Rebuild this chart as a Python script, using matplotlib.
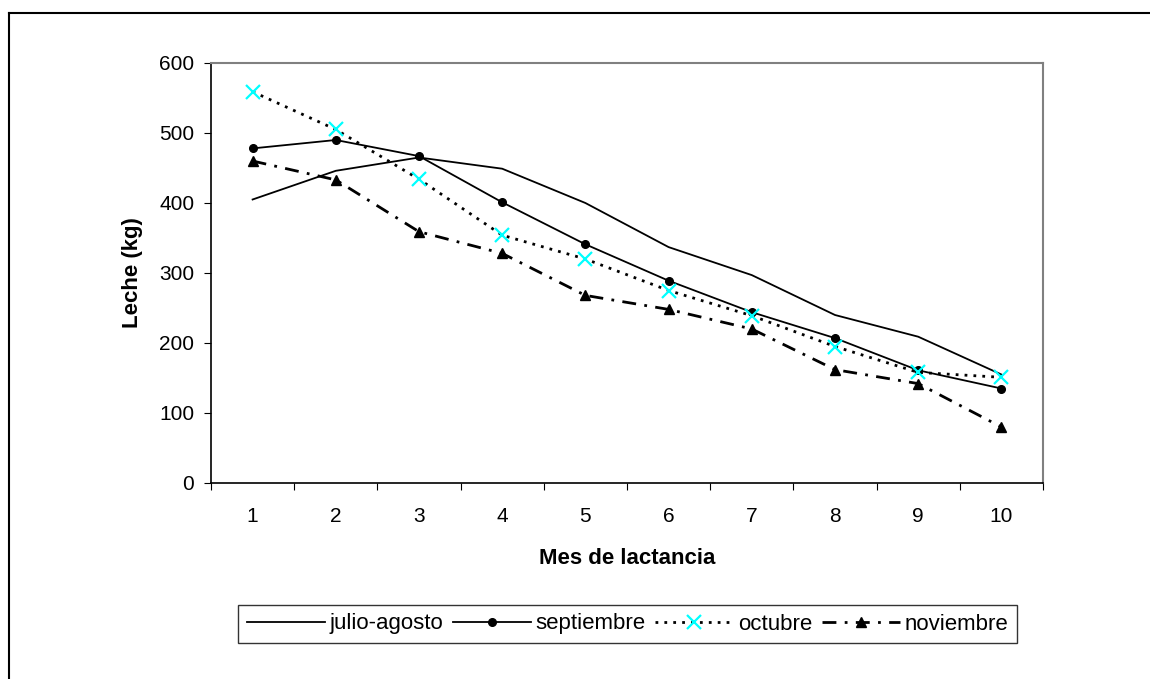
import numpy as np
import matplotlib
matplotlib.use("Agg")
import matplotlib.pyplot as plt
from matplotlib.lines import Line2D

plt.rcParams["font.family"] = ["Liberation Sans", "DejaVu Sans"]

# datos
meses = [1, 2, 3, 4, 5, 6, 7, 8, 9, 10]
julio_agosto = [405, 446, 465, 449, 400, 337, 297, 240, 209, 155]
septiembre = [478, 490, 467, 401, 341, 289, 244, 207, 161, 135]
octubre = [559, 505, 434, 354, 320, 275, 239, 195, 158, 151]
noviembre = [460, 433, 359, 328, 268, 248, 220, 162, 142, 80]

W, H = 1150, 679
fig = plt.figure(figsize=(W / 100, H / 100), dpi=100)
ax = fig.add_axes([211 / W, 1 - 483 / H, (1043 - 211) / W, (483 - 63) / H])

x = np.arange(len(meses))
ax.plot(x, julio_agosto, color="black", lw=1.3, label="julio-agosto")
ax.plot(x, septiembre, color="black", lw=1.3, marker="o", ms=5.5,
        label="septiembre")
ax.plot(x, octubre, color="black", lw=2, linestyle=(0, (1, 2.2)),
        marker="x", ms=10, mec="#00FFFF", mew=1.6, label="octubre")
ax.plot(x, noviembre, color="black", lw=2, linestyle=(0, (5, 3, 1, 3)),
        marker="^", ms=7, label="noviembre")

ax.set_xlim(-0.5, len(meses) - 0.5)
ax.set_ylim(0, 600)
ax.set_yticks(range(0, 601, 100))

# ticks del eje x en los bordes de cada categoría, etiquetas al centro
ax.set_xticks(np.arange(-0.5, len(meses), 1.0))
ax.set_xticklabels([])
ax.set_xticks(x, minor=True)
ax.set_xticklabels([str(m) for m in meses], minor=True)
ax.tick_params(axis="x", which="minor", length=0, pad=17, labelsize=15)
ax.tick_params(axis="x", which="major", length=5, direction="out",
               color="black")
ax.tick_params(axis="y", length=5, direction="out", labelsize=15, pad=7)

for s in ["top", "right"]:
    ax.spines[s].set_color("#808080")
    ax.spines[s].set_linewidth(1.5)
for s in ["left", "bottom"]:
    ax.spines[s].set_color("black")
    ax.spines[s].set_linewidth(1.2)

ax.set_ylabel("Leche (kg)", fontsize=16, fontweight="bold", labelpad=12)
ax.set_xlabel("Mes de lactancia", fontsize=16, fontweight="bold", labelpad=16)

leg = fig.legend(loc="center", bbox_to_anchor=(627.5 / W, 1 - 624 / H),
                 ncol=4, fontsize=16, frameon=True, fancybox=False,
                 edgecolor="black", handlelength=3.5, handletextpad=0.2,
                 columnspacing=0.45, borderpad=0.4, borderaxespad=0)
leg.get_frame().set_linewidth(1.0)

# borde exterior del área del gráfico (sólo arriba e izquierda visibles)
fig.add_artist(Line2D([9 / W, 1], [1 - 13 / H, 1 - 13 / H],
                      transform=fig.transFigure, color="black", lw=1.5))
fig.add_artist(Line2D([9 / W, 9 / W], [0, 1 - 13 / H],
                      transform=fig.transFigure, color="black", lw=1.5))

fig.savefig("out.png", dpi=100, facecolor="white")
